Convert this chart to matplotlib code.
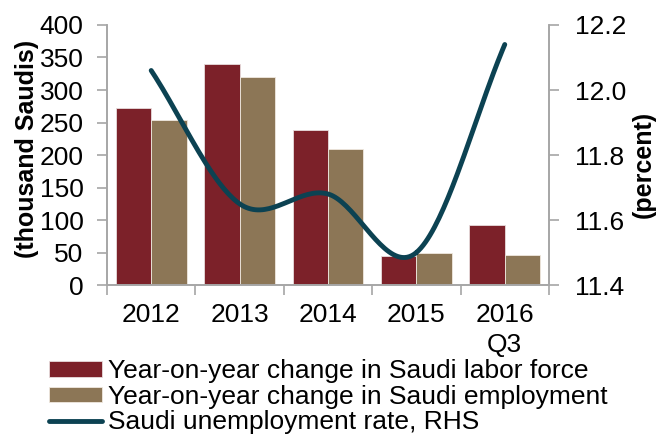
import numpy as np
import matplotlib
matplotlib.use("Agg")
import matplotlib.pyplot as plt
from matplotlib.ticker import FixedLocator, NullFormatter

# General style
plt.rcParams['font.family'] = ['Liberation Sans', 'DejaVu Sans']
plt.rcParams['font.size'] = 19

# Data
years = ['2012', '2013', '2014', '2015', '2016\nQ3']
labor_force = [272, 340, 238, 45, 92]
employment = [254, 320, 209, 50, 46]
unemployment = [12.06, 11.65, 11.68, 11.50, 12.14]

col_labor = '#7C2129'
col_emp = '#8C7656'
col_line = '#0C4252'
col_axis = '#A6A6A6'


def smooth_line(xs, ys, n=40):
    """Catmull-Rom style smoothing, like Excel's smoothed line."""
    xs = np.asarray(xs, float)
    ys = np.asarray(ys, float)
    px = np.concatenate([[2 * xs[0] - xs[1]], xs, [2 * xs[-1] - xs[-2]]])
    py = np.concatenate([[2 * ys[0] - ys[1]], ys, [2 * ys[-1] - ys[-2]]])
    out_x, out_y = [], []
    for i in range(1, len(px) - 2):
        t = np.linspace(0, 1, n)
        for p, out in ((px, out_x), (py, out_y)):
            p0, p1, p2, p3 = p[i - 1], p[i], p[i + 1], p[i + 2]
            out.extend(0.5 * ((2 * p1) + (-p0 + p2) * t
                              + (2 * p0 - 5 * p1 + 4 * p2 - p3) * t ** 2
                              + (-p0 + 3 * p1 - 3 * p2 + p3) * t ** 3))
    return np.array(out_x), np.array(out_y)


fig = plt.figure(figsize=(6.58, 4.37), dpi=100)
ax = fig.add_axes([0.1626, 0.3478, 0.6717, 0.595])
ax2 = ax.twinx()

x = np.arange(len(years))
w = 0.4
b1 = ax.bar(x - w / 2, labor_force, w, color=col_labor, edgecolor='#E8DCDC', linewidth=0.6,
            label='Year-on-year change in Saudi labor force')
b2 = ax.bar(x + w / 2, employment, w, color=col_emp, edgecolor='#EFE8DF', linewidth=0.6,
            label='Year-on-year change in Saudi employment')

sx, sy = smooth_line(x, unemployment)
ln, = ax2.plot(sx, sy, color=col_line, linewidth=3.5, solid_capstyle='round',
               label='Saudi unemployment rate, RHS')

ax.set_xlim(-0.5, len(years) - 0.5)
ax.set_ylim(0, 400)
ax.set_yticks(np.arange(0, 401, 50))
ax2.set_ylim(11.4, 12.2)
ax2.set_yticks([11.4, 11.6, 11.8, 12.0, 12.2])
ax2.set_yticklabels(['11.4', '11.6', '11.8', '12.0', '12.2'])

# category boundaries as ticks, labels at centers
ax.xaxis.set_major_locator(FixedLocator(np.arange(-0.5, len(years), 1.0)))
ax.xaxis.set_major_formatter(NullFormatter())
ax.xaxis.set_minor_locator(FixedLocator(x))
ax.set_xticklabels(years, minor=True)
ax.tick_params(axis='x', which='minor', length=0, pad=13)
ax.tick_params(axis='x', which='major', length=7, color=col_axis, width=1.2, direction='out')
for lab in ax.get_xticklabels(minor=True):
    lab.set_linespacing(1.3)

ax.tick_params(axis='y', length=7, color=col_axis, width=1.2, pad=10)
ax2.tick_params(axis='y', length=7, color=col_axis, width=1.2, pad=12)

for a in (ax, ax2):
    a.spines['top'].set_visible(False)
    for s in ('left', 'right', 'bottom'):
        a.spines[s].set_color(col_axis)
        a.spines[s].set_linewidth(1.2)

ax.set_ylabel('(thousand Saudis)', fontweight='bold', fontsize=18)
ax.yaxis.set_label_coords(-0.154, 0.523)
ax2.set_ylabel('(percent)', fontweight='bold', fontsize=18)
ax2.yaxis.set_label_coords(1.187, 0.465)

fig.legend(handles=[b1, b2, ln], loc='upper left', bbox_to_anchor=(0.0745, 0.178),
           frameon=False, handlelength=2.0, handleheight=0.55, handletextpad=0.25,
           labelspacing=0.06, borderaxespad=0, borderpad=0, fontsize=19)

fig.savefig('out.png', dpi=100)
